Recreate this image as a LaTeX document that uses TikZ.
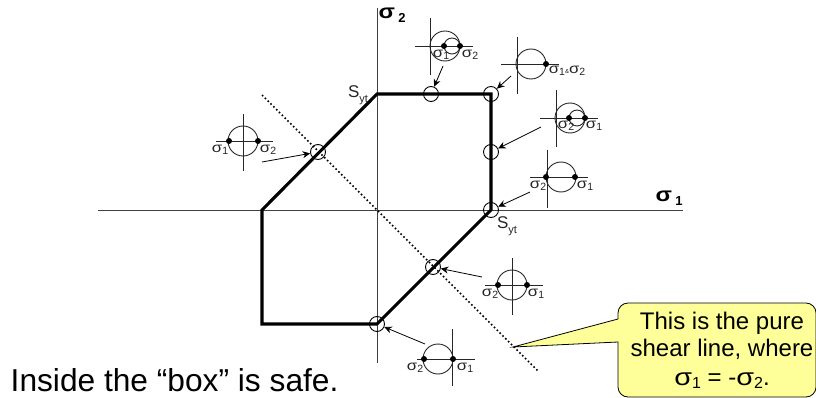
\documentclass[tikz,border=0pt]{standalone}
\usepackage{fontspec}
\usepackage{graphicx}
\setmainfont{Liberation Sans}
\usetikzlibrary{arrows.meta}
\definecolor{calloutfill}{HTML}{FFFF99}
\tikzset{
  axisline/.style={line width=1pt,black!75},
  boxline/.style={line width=3.1pt,black,line join=miter},
  shearline/.style={line width=1.6pt,black,dash pattern=on 1.6pt off 2.4pt},
  marker/.style={circle,draw=black,line width=0.9pt,minimum size=15pt,inner sep=0pt},
  pointer/.style={line width=0.8pt,black,-{Stealth[length=7.5pt,width=7pt]}},
  glyph/.style={line width=0.9pt,black!85},
  dotnode/.style={circle,fill=black,inner sep=0pt,minimum size=6pt},
  sig/.style={inner sep=0pt,font=\fontsize{14}{14}\selectfont,text=black!85},
  axislabel/.style={inner sep=0pt,font=\fontsize{20}{20}\selectfont\bfseries},
  sy/.style={inner sep=0pt,font=\fontsize{17}{17}\selectfont,text=black!85},
}
\newcommand{\wsig}{\scalebox{1.2}[1]{σ}}
\newcommand{\sigl}[1]{\wsig\raisebox{-0.25ex}{\fontsize{10.5}{10.5}\selectfont #1}}
\begin{document}
\begin{tikzpicture}[x=1pt,y=-1pt]
\useasboundingbox (0,0) rectangle (816,398);
% axes
\coordinate (xa) at (98,210); \coordinate (xb) at (683,210);
\coordinate (ya) at (377,8); \coordinate (yb) at (377,363);
\draw[axisline] (xa) -- (xb);
\draw[axisline] (ya) -- (yb);
% shear line
\coordinate (sa) at (262,95); \coordinate (sb) at (538,371);
\draw[shearline] (sa) -- (sb);
% box
\draw[boxline] (377,94) -- (491,94) -- (491,210) -- (377,324) -- (262,324) -- (262,210) -- cycle;
% markers
\node[marker] (m1) at (431,94) {};
\node[marker] (m2) at (491,94) {};
\node[marker] (m3) at (491,152) {};
\node[marker] (m4) at (491,210) {};
\node[marker] (m5) at (318,152) {};
\node[marker] (m6) at (433,267) {};
\node[marker] (m7) at (377,324) {};
% glyph 1
\draw[glyph] (430,18) -- (430,75) (415,46) -- (473,46);
\draw[glyph] (445,46) circle (15);
\draw[glyph] (452,46) circle (8);
\node[dotnode] at (444,46) {}; \node[dotnode] at (460,46) {};
\node[sig] at (441,55) {\sigl{1}}; \node[sig] at (470,55) {\sigl{2}};
% glyph 2
\draw[glyph] (517,37) -- (517,94) (501,64) -- (559,64);
\draw[glyph] (531,64) circle (15);
\node[dotnode] at (546,64) {};
\node[sig] at (567,71) {\sigl{1}\raisebox{0.1ex}{\fontsize{6}{6}\selectfont\&}\sigl{2}};
% glyph 3
\draw[glyph] (556,90) -- (556,147) (540,118) -- (598,118);
\draw[glyph] (570,118) circle (15);
\draw[glyph] (577,118) circle (8);
\node[dotnode] at (569,118) {}; \node[dotnode] at (585,118) {};
\node[sig] at (566,126) {\sigl{2}}; \node[sig] at (594,126) {\sigl{1}};
% glyph 4
\draw[glyph] (547,150) -- (547,208) (530,177) -- (588,177);
\draw[glyph] (561,177) circle (15);
\node[dotnode] at (546,177) {}; \node[dotnode] at (575,177) {};
\node[sig] at (538,186) {\sigl{2}}; \node[sig] at (585,186) {\sigl{1}};
% glyph 5
\draw[glyph] (243,114) -- (243,171) (216,141) -- (273,141);
\draw[glyph] (243,141) circle (15);
\node[dotnode] at (229,141) {}; \node[dotnode] at (258,141) {};
\node[sig] at (220,150) {\sigl{1}}; \node[sig] at (268,150) {\sigl{2}};
% glyph 6
\draw[glyph] (512,258) -- (512,315) (485,285) -- (543,285);
\draw[glyph] (512,285) circle (15);
\node[dotnode] at (498,285) {}; \node[dotnode] at (527,285) {};
\node[sig] at (490,294) {\sigl{2}}; \node[sig] at (536,294) {\sigl{1}};
% glyph 7
\draw[glyph] (452,329) -- (452,386) (417,359) -- (475,359);
\draw[glyph] (438,359) circle (15);
\node[dotnode] at (424,359) {}; \node[dotnode] at (453,359) {};
\node[sig] at (415,368) {\sigl{2}}; \node[sig] at (465,368) {\sigl{1}};
% pointers
\coordinate (p1) at (443,66); \coordinate (p2) at (511,76); \coordinate (p3) at (541,127);
\coordinate (p4) at (530,192); \coordinate (p5) at (262,162); \coordinate (p6) at (482,277);
\coordinate (p7) at (425,344);
\draw[pointer] (p1) -- (m1);
\draw[pointer] (p2) -- (m2);
\draw[pointer] (p3) -- (m3);
\draw[pointer] (p4) -- (m4);
\draw[pointer] (p5) -- (m5);
\draw[pointer] (p6) -- (m6);
\draw[pointer] (p7) -- (m7);
% axis labels
\node[axislabel] at (669,198) {\wsig\,\raisebox{-0.35ex}{\fontsize{13}{13}\selectfont 1}};
\node[axislabel] at (392,15) {\wsig\,\raisebox{-0.35ex}{\fontsize{13}{13}\selectfont 2}};
\node[sy] at (358,95) {S\raisebox{-0.5ex}{\fontsize{11}{11}\selectfont yt}};
\node[sy] at (507,226) {S\raisebox{-0.5ex}{\fontsize{11}{11}\selectfont yt}};
% text
\node[anchor=base west,inner sep=0pt,font=\fontsize{31.7}{32}\selectfont] (safe) at (10.5,391) {Inside the “box” is safe.};
% callout
\coordinate (tip) at (513,347);
\draw[line width=0.8pt,fill=calloutfill]
  (tip) -- (618,319)
  [rounded corners=10pt] -- (618,303) -- (816,303) -- (816,397) -- (618,397)
  [sharp corners] -- (618,342) -- cycle;
\node[align=center,inner sep=0pt,font=\fontsize{24}{27}\selectfont] (note) at (722,350.5)
  {This is the pure\\shear line, where\\[1.5pt]\wsig\raisebox{-0.3ex}{\fontsize{16}{16}\selectfont 1} = -\wsig\raisebox{-0.3ex}{\fontsize{16}{16}\selectfont 2}.};
\end{tikzpicture}
\end{document}
